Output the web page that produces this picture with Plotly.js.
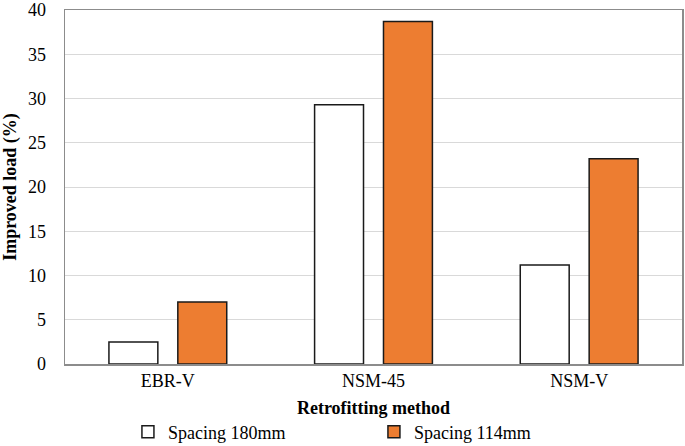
<!DOCTYPE html>
<html>
<head>
<meta charset="utf-8">
<script src="https://cdn.plot.ly/plotly-3.0.1.min.js"></script>
<style>html,body{margin:0;padding:0;background:#fff;}#chart{width:685px;height:446px;}</style>
</head>
<body>
<div id="chart"></div>
<script>
const categories = ["EBR-V", "NSM-45", "NSM-V"];
const spacing180 = [2.5, 29.3, 11.2];
const spacing114 = [7.0, 38.7, 23.2];
const seriesNames = ["Spacing 180mm", "Spacing 114mm"];
const yTicks = [0, 5, 10, 15, 20, 25, 30, 35, 40];

const font = {family: "Liberation Serif, Times New Roman, serif", color: "#000", size: 18};

const traces = [
  {type: "bar", name: seriesNames[0], x: categories, y: spacing180,
   marker: {color: "#ffffff", line: {color: "#1a1a1a", width: 1.5}}},
  {type: "bar", name: seriesNames[1], x: categories, y: spacing114,
   marker: {color: "#ED7D31", line: {color: "#1a1a1a", width: 1.5}}}
];

const layout = {
  width: 685, height: 446,
  margin: {l: 65, r: 3, t: 10, b: 82, autoexpand: false},
  paper_bgcolor: "#fff", plot_bgcolor: "#fff",
  font: font,
  barmode: "group",
  bargap: 0.33,
  bargroupgap: 0.29,
  showlegend: true,
  legend: {orientation: "h", x: 0.102, xanchor: "left", y: -0.14, yanchor: "top",
           font: font, entrywidth: 201, entrywidthmode: "pixels", bgcolor: "rgba(0,0,0,0)"},
  xaxis: {
    type: "category",
    showline: true, mirror: true, linecolor: "#8c8c8c", linewidth: 1.5,
    ticks: "", showgrid: false, zeroline: false,
    tickfont: font,
    title: {text: "<b>Retrofitting method</b>", font: font, standoff: 11}
  },
  yaxis: {
    range: [0, 40],
    tickvals: yTicks, ticktext: yTicks.map(String),
    showline: true, mirror: true, linecolor: "#8c8c8c", linewidth: 1.5,
    ticks: "", showgrid: true, gridcolor: "#d9d9d9", gridwidth: 1, zeroline: false,
    tickfont: font, ticklabelstandoff: 14, ticklabeloverflow: "allow",
    title: {text: "<b>Improved load (%)</b>", font: font, standoff: 8}
  }
};

Plotly.newPlot("chart", traces, layout, {displayModeBar: false, staticPlot: true});
</script>
</body>
</html>
